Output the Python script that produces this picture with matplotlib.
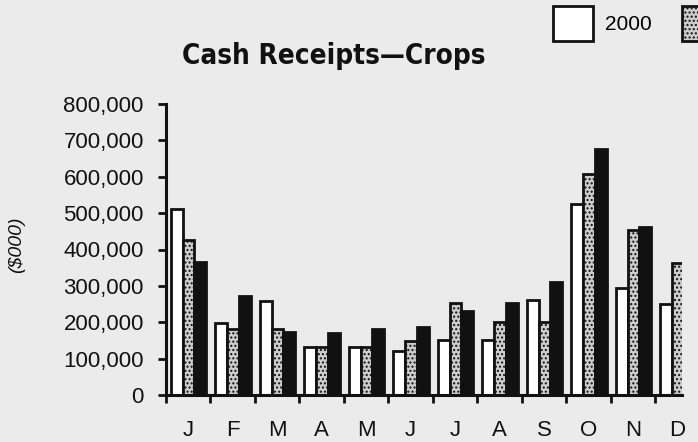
import numpy as np
import matplotlib
matplotlib.use("Agg")
import matplotlib.pyplot as plt
from matplotlib import font_manager
from matplotlib.patches import Patch

# Monthly cash receipts from crops, $000
months = ["J", "F", "M", "A", "M", "J", "J", "A", "S", "O", "N", "D"]
years = ["2000", "2001", "2002"]
receipts_2000 = [511000, 198000, 258000, 132000, 132000, 121000,
                 151000, 151000, 261000, 525000, 294000, 250000]
receipts_2001 = [426000, 181000, 181000, 132000, 132000, 148000,
                 253000, 201000, 201000, 607000, 453000, 363000]
receipts_2002 = [365000, 272000, 173000, 170000, 181000, 187000,
                 231000, 253000, 310000, 676000, 462000, np.nan]
yticks = [0, 100000, 200000, 300000, 400000, 500000, 600000, 700000, 800000]

bg = "#ebebeb"
ink = "#111111"
label_font = ["Liberation Sans", "DejaVu Sans"]

# title uses a narrow heavy face if one is around
installed = {f.name for f in font_manager.fontManager.ttflist}
condensed = [f for f in font_manager.fontManager.ttflist
             if "condensed" in f.fname.lower() and "bold" in f.fname.lower()]
if "Liberation Sans Narrow" in installed:
    title_kw = dict(fontfamily=["Liberation Sans Narrow", "DejaVu Sans"], fontsize=23)
elif condensed:
    title_kw = dict(fontproperties=font_manager.FontProperties(fname=condensed[0].fname, size=20))
else:
    title_kw = dict(fontfamily=label_font, fontsize=19)

fig = plt.figure(figsize=(6.98, 4.42), dpi=100, facecolor=bg)
ax = fig.add_axes([166 / 698, 1 - 395 / 442, (682 - 166) / 698, (395 - 104) / 442])
ax.set_facecolor(bg)

styles = [
    dict(facecolor="white", hatch=None),
    dict(facecolor="#cdcdcd", hatch="...."),
    dict(facecolor=ink, hatch=None),
]
series = [receipts_2000, receipts_2001, receipts_2002]
width = 0.265
x = np.arange(len(months))
for i, (vals, st) in enumerate(zip(series, styles)):
    ax.bar(x + 0.11 + width * (i + 0.5), vals, width=width,
           facecolor=st["facecolor"], hatch=st["hatch"],
           edgecolor=ink, linewidth=2, zorder=2)

ax.set_xlim(0, 11.6)
ax.set_ylim(0, 800000)

ax.spines["top"].set_visible(False)
ax.spines["right"].set_visible(False)
for s in ("left", "bottom"):
    ax.spines[s].set_linewidth(2.2)
    ax.spines[s].set_color(ink)

ax.set_yticks(yticks)
ax.set_yticklabels([f"{v:,}" for v in yticks], fontfamily=label_font, fontsize=16)
ax.set_xticks(x)
ax.set_xticklabels([])
ax.set_xticks(x + 0.5, minor=True)
ax.set_xticklabels(months, minor=True, fontfamily=label_font, fontsize=16)
ax.tick_params(axis="y", direction="out", length=6, width=2, color=ink, pad=10, labelcolor=ink)
ax.tick_params(axis="x", which="major", direction="out", length=6, width=2, color=ink)
ax.tick_params(axis="x", which="minor", length=0, pad=18, labelcolor=ink)

fig.text(17 / 698, 1 - 245 / 442, "($000)", rotation=90, style="italic",
         fontsize=14, fontfamily=label_font, color=ink, ha="center", va="center")
fig.text(334 / 698, 1 - 56 / 442, "Cash Receipts\u2014Crops", fontweight="heavy",
         color=ink, ha="center", va="center", **title_kw)

handles = [Patch(facecolor=st["facecolor"], hatch=st["hatch"], edgecolor=ink, linewidth=2)
           for st in styles]
fig.legend(handles, years, loc="upper left", bbox_to_anchor=(553 / 698, 1 - 6 / 442),
           ncol=3, frameon=False, borderpad=0, borderaxespad=0,
           prop={"family": label_font, "size": 15},
           handlelength=1.9, handleheight=2.2, handletextpad=0.6, columnspacing=1.45)

fig.savefig("out.png", dpi=100, facecolor=bg)
